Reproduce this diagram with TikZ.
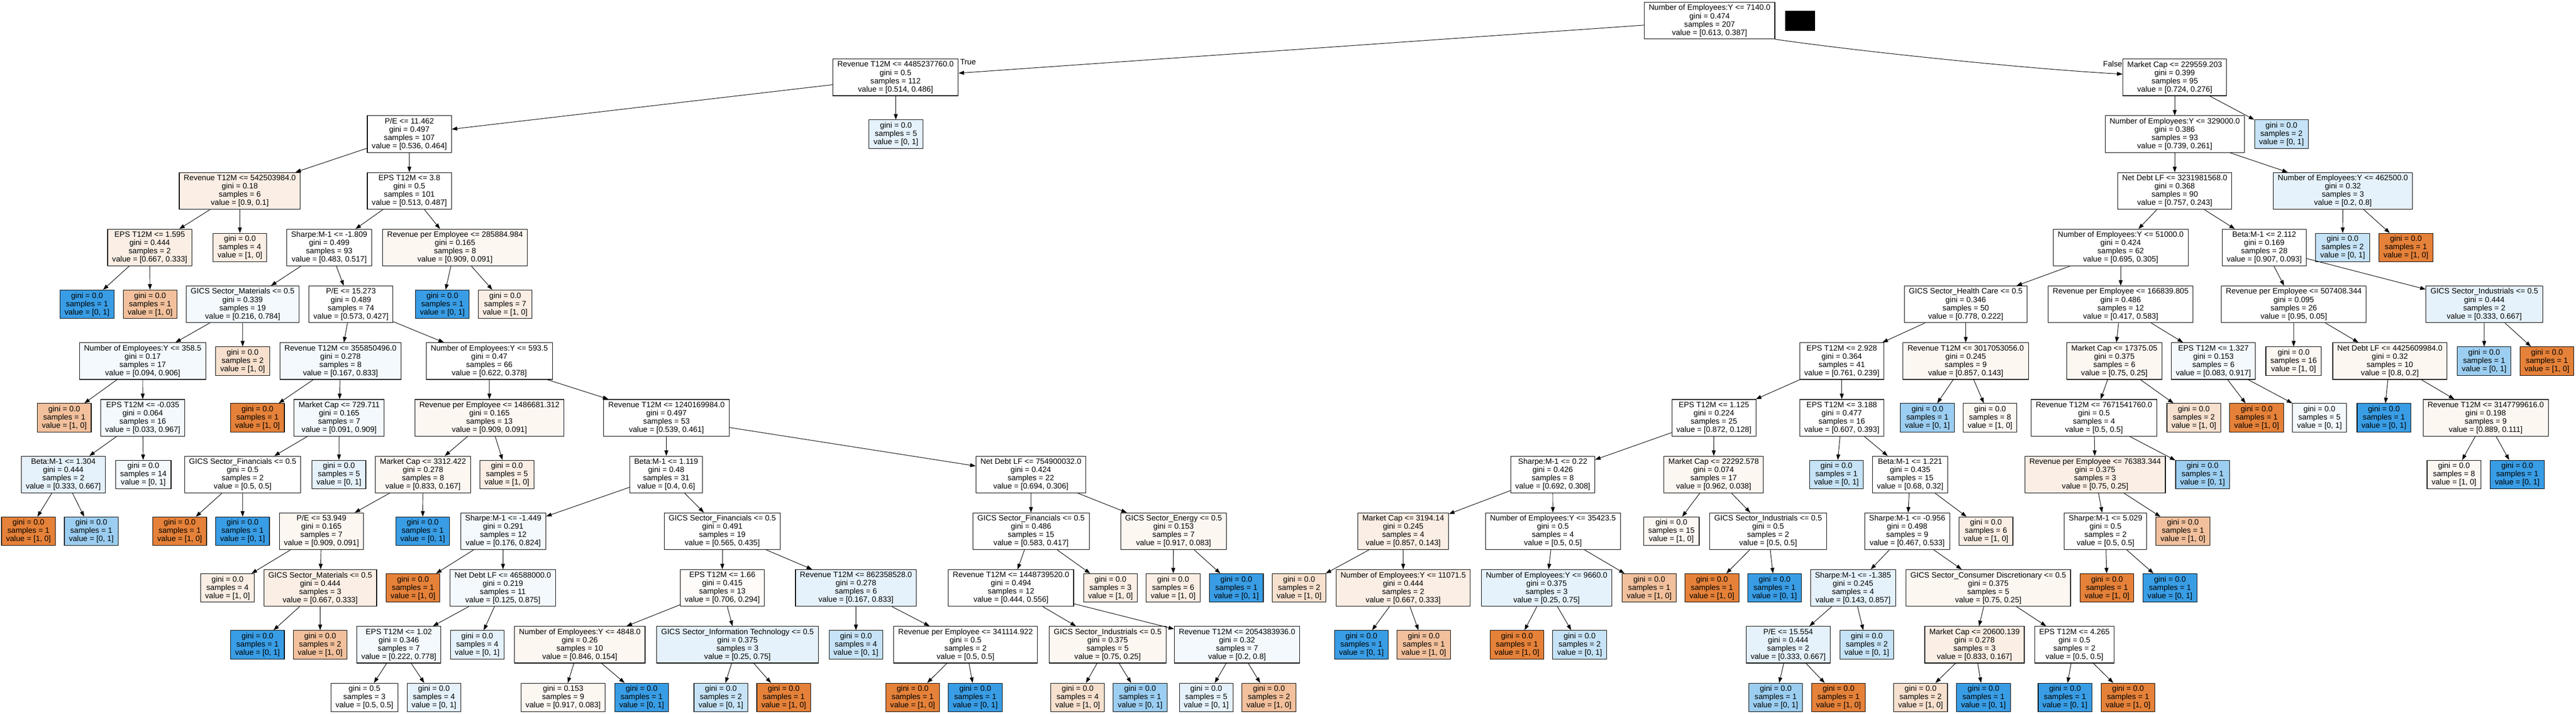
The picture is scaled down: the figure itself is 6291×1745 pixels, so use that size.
\documentclass[tikz,border=0pt]{standalone}
\usepackage{fontspec}
\setmainfont{Liberation Sans}
\usetikzlibrary{arrows.meta}
\definecolor{o1}{HTML}{E58139}
\definecolor{o2}{HTML}{F2C09C}
\definecolor{o3}{HTML}{F8E0CE}
\definecolor{o4}{HTML}{FBEEE4}
\definecolor{o5}{HTML}{FDF7F2}
\definecolor{ow}{HTML}{FEFBF9}
\definecolor{b1}{HTML}{399DE5}
\definecolor{b2}{HTML}{9CCEF2}
\definecolor{b3}{HTML}{C6E3F7}
\definecolor{b4}{HTML}{E5F2FC}
\definecolor{b5}{HTML}{F3F9FD}
\newcommand{\tfont}{\fontsize{19pt}{20.2pt}\selectfont}
\newcommand{\dtxt}[4]{#1\\gini = #2\\samples = #3\\value = [#4]}
\newcommand{\ltxt}[3]{gini = #1\\samples = #2\\value = [#3]}
\begin{document}
\begin{tikzpicture}[x=1pt,y=-1pt,
  inode/.style={draw=black, line width=1.4pt, rectangle, align=center, font=\tfont, inner xsep=11pt, inner ysep=0pt, minimum height=89.6pt, fill=white},
  leafn/.style={inode, minimum height=69.6pt},
  conn/.style={line width=1.2pt, -{Triangle[length=13.5pt, width=9.5pt]}},
  lbl/.style={font=\tfont, inner sep=0pt}]
\useasboundingbox (0,0) rectangle (6291,1745);
% level 0
\node[inode] (r) at (4175,50.5) {\dtxt{Number of Employees:Y <= 7140.0}{0.474}{207}{0.613, 0.387}};
\fill[black] (4360,26) rectangle (4433,75);
% level 1
\node[inode] (a) at (2187,189.2) {\dtxt{Revenue T12M <= 4485237760.0}{0.5}{112}{0.514, 0.486}};
\node[inode] (b) at (5311,189.2) {\dtxt{Market Cap <= 229559.203}{0.399}{95}{0.724, 0.276}};
\node[lbl, anchor=north west] (tl) at ([xshift=4pt,yshift=-1pt]a.north east) {True};
\node[lbl, anchor=north east] (fl) at ([xshift=-1pt,yshift=-5pt]b.north west) {False};
% level 2
\node[inode] (a1) at (999.7,327.8) {\dtxt{P/E <= 11.462}{0.497}{107}{0.536, 0.464}};
\node[leafn, fill=b4] (a2) at (2188,327.8) {\ltxt{0.0}{5}{0, 1}};
\node[inode] (b1) at (5311,327.8) {\dtxt{Number of Employees:Y <= 329000.0}{0.386}{93}{0.739, 0.261}};
\node[leafn, fill=b3] (b2) at (5571.6,327.8) {\ltxt{0.0}{2}{0, 1}};
% level 3
\node[inode, fill=o4] (a11) at (585.6,466.5) {\dtxt{Revenue T12M <= 542503984.0}{0.18}{6}{0.9, 0.1}};
\node[inode] (a12) at (999.7,466.5) {\dtxt{EPS T12M <= 3.8}{0.5}{101}{0.513, 0.487}};
\node[inode] (b11) at (5311,466.5) {\dtxt{Net Debt LF <= 3231981568.0}{0.368}{90}{0.757, 0.243}};
\node[inode, fill=b4] (b12) at (5721.7,466.5) {\dtxt{Number of Employees:Y <= 462500.0}{0.32}{3}{0.2, 0.8}};
% level 4
\node[inode, fill=o4] (a111) at (365.6,605.1) {\dtxt{EPS T12M <= 1.595}{0.444}{2}{0.667, 0.333}};
\node[leafn, fill=o4] (a112) at (586,605.1) {\ltxt{0.0}{4}{1, 0}};
\node[inode] (a121) at (804,605.1) {\dtxt{Sharpe:M-1 <= -1.809}{0.499}{93}{0.483, 0.517}};
\node[inode, fill=o5] (a122) at (1111.2,605.1) {\dtxt{Revenue per Employee <= 285884.984}{0.165}{8}{0.909, 0.091}};
\node[inode] (b111) at (5179,605.1) {\dtxt{Number of Employees:Y <= 51000.0}{0.424}{62}{0.695, 0.305}};
\node[inode] (b112) at (5529.6,605.1) {\dtxt{Beta:M-1 <= 2.112}{0.169}{28}{0.907, 0.093}};
\node[leafn, fill=b3] (b121) at (5721,605.1) {\ltxt{0.0}{2}{0, 1}};
\node[leafn, fill=o1] (b122) at (5875.6,605.1) {\ltxt{0.0}{1}{1, 0}};
% level 5
\node[leafn, fill=b1] (n1) at (212.5,743.8) {\ltxt{0.0}{1}{0, 1}};
\node[leafn, fill=o2] (n2) at (366.5,743.8) {\ltxt{0.0}{1}{1, 0}};
\node[inode, fill=b5] (n3) at (592.5,743.8) {\dtxt{GICS Sector\_Materials <= 0.5}{0.339}{19}{0.216, 0.784}};
\node[inode] (n4) at (857,743.8) {\dtxt{P/E <= 15.273}{0.489}{74}{0.573, 0.427}};
\node[leafn, fill=b1] (n5) at (1080.3,743.8) {\ltxt{0.0}{1}{0, 1}};
\node[leafn, fill=o4] (n6) at (1233.7,743.8) {\ltxt{0.0}{7}{1, 0}};
\node[inode] (m1) at (4800.6,743.8) {\dtxt{GICS Sector\_Health Care <= 0.5}{0.346}{50}{0.778, 0.222}};
\node[inode] (m2) at (5179,743.8) {\dtxt{Revenue per Employee <= 166839.805}{0.486}{12}{0.417, 0.583}};
\node[inode] (m3) at (5601.8,743.8) {\dtxt{Revenue per Employee <= 507408.344}{0.095}{26}{0.95, 0.05}};
\node[inode, fill=b4] (m4) at (6067,743.8) {\dtxt{GICS Sector\_Industrials <= 0.5}{0.444}{2}{0.333, 0.667}};
% level 6
\node[inode, fill=b5] (n31) at (348.5,882.5) {\dtxt{Number of Employees:Y <= 358.5}{0.17}{17}{0.094, 0.906}};
\node[leafn, fill=o3] (n32) at (592.6,882.5) {\ltxt{0.0}{2}{1, 0}};
\node[inode, fill=b5] (n41) at (831.5,882.5) {\dtxt{Revenue T12M <= 355850496.0}{0.278}{8}{0.167, 0.833}};
\node[inode] (n42) at (1195,882.5) {\dtxt{Number of Employees:Y <= 593.5}{0.47}{66}{0.622, 0.378}};
\node[inode] (m11) at (4497.9,882.5) {\dtxt{EPS T12M <= 2.928}{0.364}{41}{0.761, 0.239}};
\node[inode, fill=o5] (m12) at (4800.6,882.5) {\dtxt{Revenue T12M <= 3017053056.0}{0.245}{9}{0.857, 0.143}};
\node[inode, fill=o5] (m21) at (5163.5,882.5) {\dtxt{Market Cap <= 17375.05}{0.375}{6}{0.75, 0.25}};
\node[inode, fill=b5] (m22) at (5405.5,882.5) {\dtxt{EPS T12M <= 1.327}{0.153}{6}{0.083, 0.917}};
\node[leafn, fill=o5] (m31) at (5601.3,882.5) {\ltxt{0.0}{16}{1, 0}};
\node[inode, fill=o5] (m32) at (5836.4,882.5) {\dtxt{Net Debt LF <= 4425609984.0}{0.32}{10}{0.8, 0.2}};
\node[leafn, fill=b2] (m41) at (6066.6,882.5) {\ltxt{0.0}{1}{0, 1}};
\node[leafn, fill=o1] (m42) at (6220,882.5) {\ltxt{0.0}{1}{1, 0}};
% level 7
\node[leafn, fill=o2] (n311) at (157,1021.1) {\ltxt{0.0}{1}{1, 0}};
\node[inode, fill=b5] (n312) at (348.6,1021.1) {\dtxt{EPS T12M <= -0.035}{0.064}{16}{0.033, 0.967}};
\node[leafn, fill=o1] (n411) at (628.8,1021.1) {\ltxt{0.0}{1}{1, 0}};
\node[inode, fill=b5] (n412) at (828.3,1021.1) {\dtxt{Market Cap <= 729.711}{0.165}{7}{0.091, 0.909}};
\node[inode, fill=o5] (n421) at (1195.3,1021.1) {\dtxt{Revenue per Employee <= 1486681.312}{0.165}{13}{0.909, 0.091}};
\node[inode] (n422) at (1627.6,1021.1) {\dtxt{Revenue T12M <= 1240169984.0}{0.497}{53}{0.539, 0.461}};
\node[inode] (m111) at (4185.6,1021.1) {\dtxt{EPS T12M <= 1.125}{0.224}{25}{0.872, 0.128}};
\node[inode] (m112) at (4497.9,1021.1) {\dtxt{EPS T12M <= 3.188}{0.477}{16}{0.607, 0.393}};
\node[leafn, fill=b2] (m121) at (4707,1021.1) {\ltxt{0.0}{1}{0, 1}};
\node[leafn, fill=o5] (m122) at (4860,1021.1) {\ltxt{0.0}{8}{1, 0}};
\node[inode] (m211) at (5113.8,1021.1) {\dtxt{Revenue T12M <= 7671541760.0}{0.5}{4}{0.5, 0.5}};
\node[leafn, fill=o3] (m212) at (5357.6,1021.1) {\ltxt{0.0}{2}{1, 0}};
\node[leafn, fill=o1] (m221) at (5511,1021.1) {\ltxt{0.0}{1}{1, 0}};
\node[leafn, fill=b5] (m222) at (5664.4,1021.1) {\ltxt{0.0}{5}{0, 1}};
\node[leafn, fill=b1] (m321) at (5821.8,1021.1) {\ltxt{0.0}{1}{0, 1}};
\node[inode, fill=o5] (m322) at (6070.4,1021.1) {\dtxt{Revenue T12M <= 3147799616.0}{0.198}{9}{0.889, 0.111}};
% level 8
\node[inode, fill=b4] (n3121) at (154.6,1159.8) {\dtxt{Beta:M-1 <= 1.304}{0.444}{2}{0.333, 0.667}};
\node[leafn, fill=b5] (n3122) at (350,1159.8) {\ltxt{0.0}{14}{0, 1}};
\node[inode] (n4121) at (592.6,1159.8) {\dtxt{GICS Sector\_Financials <= 0.5}{0.5}{2}{0.5, 0.5}};
\node[leafn, fill=b4] (n4122) at (827.7,1159.8) {\ltxt{0.0}{5}{0, 1}};
\node[inode, fill=o5] (n4211) at (1033,1159.8) {\dtxt{Market Cap <= 3312.422}{0.278}{8}{0.833, 0.167}};
\node[leafn, fill=o4] (n4212) at (1238,1159.8) {\ltxt{0.0}{5}{1, 0}};
\node[inode] (n4221) at (1627,1159.8) {\dtxt{Beta:M-1 <= 1.119}{0.48}{31}{0.4, 0.6}};
\node[inode] (n4222) at (2517.5,1159.8) {\dtxt{Net Debt LF <= 754900032.0}{0.424}{22}{0.694, 0.306}};
\node[inode] (m1111) at (3792,1159.8) {\dtxt{Sharpe:M-1 <= 0.22}{0.426}{8}{0.692, 0.308}};
\node[inode, fill=o5] (m1112) at (4185,1159.8) {\dtxt{Market Cap <= 22292.578}{0.074}{17}{0.962, 0.038}};
\node[leafn, fill=b3] (m1121) at (4484.8,1159.8) {\ltxt{0.0}{1}{0, 1}};
\node[inode] (m1122) at (4664.8,1159.8) {\dtxt{Beta:M-1 <= 1.221}{0.435}{15}{0.68, 0.32}};
\node[inode, fill=o4] (m2111) at (5116.6,1159.8) {\dtxt{Revenue per Employee <= 76383.344}{0.375}{3}{0.75, 0.25}};
\node[leafn, fill=b2] (m2112) at (5379,1159.8) {\ltxt{0.0}{1}{0, 1}};
\node[leafn, fill=o5] (m3221) at (5993,1159.8) {\ltxt{0.0}{8}{1, 0}};
\node[leafn, fill=b1] (m3222) at (6147.5,1159.8) {\ltxt{0.0}{1}{0, 1}};
% level 9
\node[leafn, fill=o1] (p1) at (69.5,1298.4) {\ltxt{0.0}{1}{1, 0}};
\node[leafn, fill=b2] (p2) at (223,1298.4) {\ltxt{0.0}{1}{0, 1}};
\node[leafn, fill=o1] (p3) at (438.8,1298.4) {\ltxt{0.0}{1}{1, 0}};
\node[leafn, fill=b1] (p4) at (592.4,1298.4) {\ltxt{0.0}{1}{0, 1}};
\node[inode, fill=o5] (p5) at (785,1298.4) {\dtxt{P/E <= 53.949}{0.165}{7}{0.909, 0.091}};
\node[leafn, fill=b1] (p6) at (1032.3,1298.4) {\ltxt{0.0}{1}{0, 1}};
\node[inode, fill=b5] (p7) at (1229,1298.4) {\dtxt{Sharpe:M-1 <= -1.449}{0.291}{12}{0.176, 0.824}};
\node[inode] (p8) at (1764,1298.4) {\dtxt{GICS Sector\_Financials <= 0.5}{0.491}{19}{0.565, 0.435}};
\node[inode] (p9) at (2518,1298.4) {\dtxt{GICS Sector\_Financials <= 0.5}{0.486}{15}{0.583, 0.417}};
\node[inode, fill=o5] (p10) at (2866,1298.4) {\dtxt{GICS Sector\_Energy <= 0.5}{0.153}{7}{0.917, 0.083}};
\node[inode, fill=o4] (q1) at (3426.8,1298.4) {\dtxt{Market Cap <= 3194.14}{0.245}{4}{0.857, 0.143}};
\node[inode] (q2) at (3792.4,1298.4) {\dtxt{Number of Employees:Y <= 35423.5}{0.5}{4}{0.5, 0.5}};
\node[leafn, fill=o5] (q3) at (4081.7,1298.4) {\ltxt{0.0}{15}{1, 0}};
\node[inode] (q4) at (4318,1298.4) {\dtxt{GICS Sector\_Industrials <= 0.5}{0.5}{2}{0.5, 0.5}};
\node[inode] (q5) at (4657.6,1298.4) {\dtxt{Sharpe:M-1 <= -0.956}{0.498}{9}{0.467, 0.533}};
\node[leafn, fill=o4] (q6) at (4850,1298.4) {\ltxt{0.0}{6}{1, 0}};
\node[inode] (q7) at (5142,1298.4) {\dtxt{Sharpe:M-1 <= 5.029}{0.5}{2}{0.5, 0.5}};
\node[leafn, fill=o2] (q8) at (5331,1298.4) {\ltxt{0.0}{1}{1, 0}};
% level 10
\node[leafn, fill=o4] (s1) at (555.6,1437.1) {\ltxt{0.0}{4}{1, 0}};
\node[inode, fill=o4] (s2) at (782,1437.1) {\dtxt{GICS Sector\_Materials <= 0.5}{0.444}{3}{0.667, 0.333}};
\node[leafn, fill=o1] (s3) at (1008.6,1437.1) {\ltxt{0.0}{1}{1, 0}};
\node[inode, fill=b5] (s4) at (1228,1437.1) {\dtxt{Net Debt LF <= 46588000.0}{0.219}{11}{0.125, 0.875}};
\node[inode, fill=ow] (s5) at (1764,1437.1) {\dtxt{EPS T12M <= 1.66}{0.415}{13}{0.706, 0.294}};
\node[inode, fill=b4] (s6) at (2090.4,1437.1) {\dtxt{Revenue T12M <= 862358528.0}{0.278}{6}{0.167, 0.833}};
\node[inode] (s7) at (2469,1437.1) {\dtxt{Revenue T12M <= 1448739520.0}{0.494}{12}{0.444, 0.556}};
\node[leafn, fill=o4] (s8) at (2712,1437.1) {\ltxt{0.0}{3}{1, 0}};
\node[leafn, fill=o4] (s9) at (2865,1437.1) {\ltxt{0.0}{6}{1, 0}};
\node[leafn, fill=b1] (s10) at (3019.4,1437.1) {\ltxt{0.0}{1}{0, 1}};
\node[leafn, fill=o3] (t1) at (3172.6,1437.1) {\ltxt{0.0}{2}{1, 0}};
\node[inode, fill=o4] (t2) at (3426.8,1437.1) {\dtxt{Number of Employees:Y <= 11071.5}{0.444}{2}{0.667, 0.333}};
\node[inode, fill=b4] (t3) at (3777,1437.1) {\dtxt{Number of Employees:Y <= 9660.0}{0.375}{3}{0.25, 0.75}};
\node[leafn, fill=o2] (t4) at (4027.6,1437.1) {\ltxt{0.0}{1}{1, 0}};
\node[leafn, fill=o1] (t5) at (4180.8,1437.1) {\ltxt{0.0}{1}{1, 0}};
\node[leafn, fill=b1] (t6) at (4333.8,1437.1) {\ltxt{0.0}{1}{0, 1}};
\node[inode, fill=b4] (t7) at (4525.3,1437.1) {\dtxt{Sharpe:M-1 <= -1.385}{0.245}{4}{0.143, 0.857}};
\node[inode, fill=o5] (t8) at (4855.6,1437.1) {\dtxt{GICS Sector\_Consumer Discretionary <= 0.5}{0.375}{5}{0.75, 0.25}};
\node[leafn, fill=o1] (t9) at (5145.6,1437.1) {\ltxt{0.0}{1}{1, 0}};
\node[leafn, fill=b1] (t10) at (5299.4,1437.1) {\ltxt{0.0}{1}{0, 1}};
% level 11
\node[leafn, fill=b1] (u1) at (628.8,1575.8) {\ltxt{0.0}{1}{0, 1}};
\node[leafn, fill=o2] (u2) at (781.8,1575.8) {\ltxt{0.0}{2}{1, 0}};
\node[inode, fill=b5] (u3) at (974,1575.8) {\dtxt{EPS T12M <= 1.02}{0.346}{7}{0.222, 0.778}};
\node[leafn, fill=b4] (u4) at (1165.4,1575.8) {\ltxt{0.0}{4}{0, 1}};
\node[inode, fill=o5] (u5) at (1415.9,1575.8) {\dtxt{Number of Employees:Y <= 4848.0}{0.26}{10}{0.846, 0.154}};
\node[inode, fill=b4] (u6) at (1801,1575.8) {\dtxt{GICS Sector\_Information Technology <= 0.5}{0.375}{3}{0.25, 0.75}};
\node[leafn, fill=b3] (u7) at (2090.3,1575.8) {\ltxt{0.0}{4}{0, 1}};
\node[inode] (u8) at (2358,1575.8) {\dtxt{Revenue per Employee <= 341114.922}{0.5}{2}{0.5, 0.5}};
\node[inode, fill=o5] (u9) at (2705,1575.8) {\dtxt{GICS Sector\_Industrials <= 0.5}{0.375}{5}{0.75, 0.25}};
\node[inode, fill=b5] (u10) at (3021,1575.8) {\dtxt{Revenue T12M <= 2054383936.0}{0.32}{7}{0.2, 0.8}};
\node[leafn, fill=b1] (v1) at (3324.7,1575.8) {\ltxt{0.0}{1}{0, 1}};
\node[leafn, fill=o2] (v2) at (3477,1575.8) {\ltxt{0.0}{1}{1, 0}};
\node[leafn, fill=o1] (v3) at (3704.6,1575.8) {\ltxt{0.0}{1}{1, 0}};
\node[leafn, fill=b3] (v4) at (3857.7,1575.8) {\ltxt{0.0}{2}{0, 1}};
\node[inode, fill=b4] (v5) at (4367,1575.8) {\dtxt{P/E <= 15.554}{0.444}{2}{0.333, 0.667}};
\node[leafn, fill=b3] (v6) at (4559,1575.8) {\ltxt{0.0}{2}{0, 1}};
\node[inode, fill=o4] (v7) at (4822,1575.8) {\dtxt{Market Cap <= 20600.139}{0.278}{3}{0.833, 0.167}};
\node[inode] (v8) at (5066,1575.8) {\dtxt{EPS T12M <= 4.265}{0.5}{2}{0.5, 0.5}};
% level 12
\node[leafn] (w1) at (890,1704.7) {\ltxt{0.5}{3}{0.5, 0.5}};
\node[leafn, fill=b4] (w2) at (1059.7,1704.7) {\ltxt{0.0}{4}{0, 1}};
\node[leafn, fill=o5] (w3) at (1375.3,1704.7) {\ltxt{0.153}{9}{0.917, 0.083}};
\node[leafn, fill=b1] (w4) at (1567,1704.7) {\ltxt{0.0}{1}{0, 1}};
\node[leafn, fill=b3] (w5) at (1760.5,1704.7) {\ltxt{0.0}{2}{0, 1}};
\node[leafn, fill=o1] (w6) at (1914,1704.7) {\ltxt{0.0}{1}{1, 0}};
\node[leafn, fill=o1] (w7) at (2228.8,1704.7) {\ltxt{0.0}{1}{1, 0}};
\node[leafn, fill=b1] (w8) at (2381.8,1704.7) {\ltxt{0.0}{1}{0, 1}};
\node[leafn, fill=o3] (w9) at (2631.8,1704.7) {\ltxt{0.0}{4}{1, 0}};
\node[leafn, fill=b2] (w10) at (2784.3,1704.7) {\ltxt{0.0}{1}{0, 1}};
\node[leafn, fill=b4] (w11) at (2945.8,1704.7) {\ltxt{0.0}{5}{0, 1}};
\node[leafn, fill=o2] (w12) at (3099,1704.7) {\ltxt{0.0}{2}{1, 0}};
\node[leafn, fill=b2] (x1) at (4336.5,1704.7) {\ltxt{0.0}{1}{0, 1}};
\node[leafn, fill=o1] (x2) at (4490,1704.7) {\ltxt{0.0}{1}{1, 0}};
\node[leafn, fill=o3] (x3) at (4690.3,1704.7) {\ltxt{0.0}{2}{1, 0}};
\node[leafn, fill=b1] (x4) at (4844,1704.7) {\ltxt{0.0}{1}{0, 1}};
\node[leafn, fill=b1] (x5) at (5043,1704.7) {\ltxt{0.0}{1}{0, 1}};
\node[leafn, fill=o1] (x6) at (5197,1704.7) {\ltxt{0.0}{1}{1, 0}};
% connectors
\draw[conn] (r) -- (a);
\draw[conn] (r.south east) .. controls (4536,125) and (4934,167) .. ([yshift=8pt]b.west);
\foreach \p/\c in {a/a1,a/a2,a1/a11,a1/a12,a11/a111,a11/a112,a111/n1,a111/n2,
  a12/a121,a12/a122,a121/n3,a121/n4,a122/n5,a122/n6,n3/n31,n3/n32,
  n31/n311,n31/n312,n312/n3121,n312/n3122,n3121/p1,n3121/p2,
  n4/n41,n4/n42,n41/n411,n41/n412,n412/n4121,n412/n4122,n4121/p3,n4121/p4,
  n42/n421,n42/n422,n421/n4211,n421/n4212,n4211/p5,n4211/p6,p5/s1,p5/s2,s2/u1,s2/u2,
  n422/n4221,n422/n4222,n4221/p7,n4221/p8,p7/s3,p7/s4,s4/u3,s4/u4,u3/w1,u3/w2,
  p8/s5,p8/s6,s5/u5,s5/u6,u5/w3,u5/w4,u6/w5,u6/w6,s6/u7,s6/u8,u8/w7,u8/w8,
  n4222/p9,n4222/p10,p9/s7,p9/s8,s7/u9,s7/u10,u9/w9,u9/w10,u10/w11,u10/w12,p10/s9,p10/s10,
  b/b1,b/b2,b1/b11,b1/b12,b12/b121,b12/b122,b11/b111,b11/b112,b111/m1,b111/m2,
  b112/m3,b112/m4,m4/m41,m4/m42,m3/m31,m3/m32,m32/m321,m32/m322,m322/m3221,m322/m3222,
  m2/m21,m2/m22,m22/m221,m22/m222,m21/m211,m21/m212,m211/m2111,m211/m2112,
  m2111/q7,m2111/q8,q7/t9,q7/t10,m1/m11,m1/m12,m12/m121,m12/m122,m11/m111,m11/m112,
  m111/m1111,m111/m1112,m1112/q3,m1112/q4,q4/t5,q4/t6,m1111/q1,m1111/q2,q1/t1,q1/t2,
  t2/v1,t2/v2,q2/t3,q2/t4,t3/v3,t3/v4,m112/m1121,m112/m1122,m1122/q5,m1122/q6,
  q5/t7,q5/t8,t7/v5,t7/v6,v5/x1,v5/x2,t8/v7,t8/v8,v7/x3,v7/x4,v8/x5,v8/x6}
  {\draw[conn] (\p) -- (\c);}
\end{tikzpicture}
\end{document}
